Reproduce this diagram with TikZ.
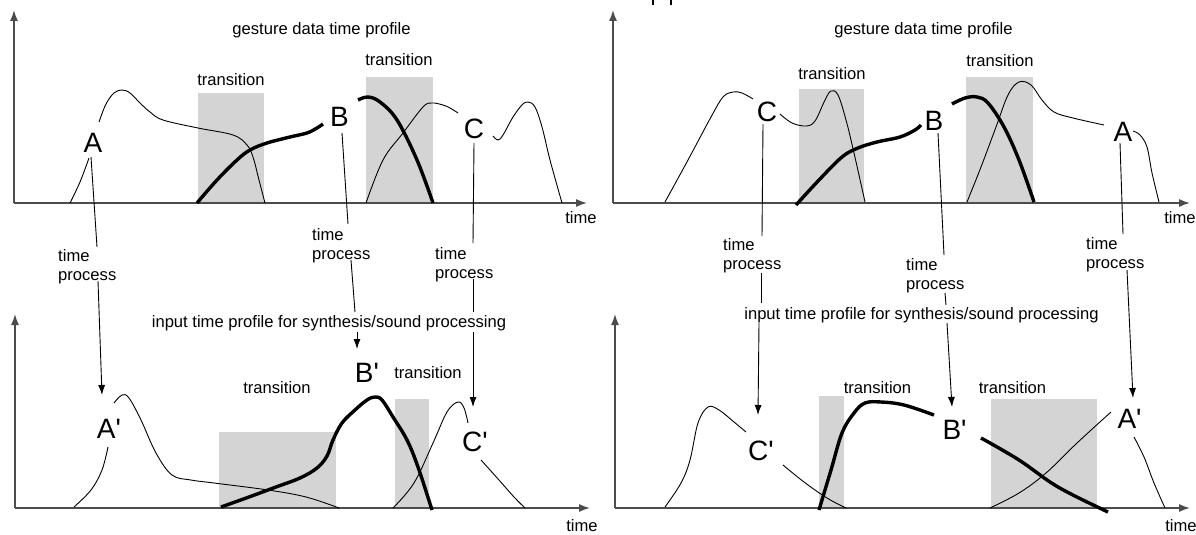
\documentclass[tikz,border=0pt]{standalone}
\usepackage{fontspec}
\setmainfont{Liberation Sans}
\usetikzlibrary{arrows.meta}
\begin{document}
\begin{tikzpicture}[x=1pt,y=-1pt,
  lbl/.style={inner sep=0pt, font=\fontsize{16.6}{19.5}\selectfont},
  tp/.style={inner sep=0pt, anchor=north west, align=left, font=\fontsize{16.6}{19.5}\selectfont},
  big/.style={inner sep=0pt, font=\fontsize{28}{30}\selectfont},
  axisline/.style={line width=1.4pt, black!70, -{Latex[length=11pt,width=8pt]}},
  thincurve/.style={line width=0.9pt, black},
  boldcurve/.style={line width=3.4pt, black},
  trans/.style={fill=black!17},
  conn/.style={line width=0.9pt, black},
  connarrow/.style={line width=0.9pt, black, -{Latex[length=10pt,width=7pt]}}
]
\useasboundingbox (0,0) rectangle (1196,535);

% cut-off marks at top
\draw[line width=2.5pt] (653,0) -- (653,5);
\draw[line width=2.5pt] (671,0) -- (671,5);

% ================= TOP LEFT =================
\fill[trans] (198,93) rectangle (264,203);
\fill[trans] (366,77) rectangle (433,203);
\coordinate (o1) at (14,203);
\coordinate (y1) at (14,10);
\coordinate (x1) at (587,203);
\draw[axisline] (o1) -- (y1);
\draw[axisline] (o1) -- (x1);
\node[lbl] (t1) at (321.5,30) {gesture data time profile};
\node[lbl] (tr1a) at (231,80) {transition};
\node[lbl] (tr1b) at (399,60) {transition};
\node[lbl] (time1) at (581,218) {time};
\node[big] (A) at (93,143) {A};
\node[big] (B) at (339.5,117) {B};
\node[big] (C) at (474,129) {C};

\draw[thincurve] plot[smooth,tension=0.6] coordinates {(70,203) (80,182) (89,158)};
\draw[thincurve] plot[smooth,tension=0.6] coordinates {(99,122) (106,104) (114,93) (122,90) (130,93) (140,103) (150,112) (163,120) (198,128) (233,135) (247,145) (253,157) (259,180) (265,203)};
\draw[boldcurve] plot[smooth,tension=0.6] coordinates {(197,203) (217,180) (237,160) (250,150) (267,143) (290,137) (307,133) (317,128) (323,124)};
\draw[boldcurve] plot[smooth,tension=0.6] coordinates {(358,100) (368,97) (380,102) (397,120) (417,160) (433,203)};
\draw[thincurve] plot[smooth,tension=0.6] coordinates {(366,203) (383,160) (403,133) (423,107) (432,103) (443,105) (450,108) (458,113)};
\draw[thincurve] plot[smooth,tension=0.6] coordinates {(493,136) (498,140) (503,135) (513,117) (522,105) (528,102) (535,107) (542,127) (550,160) (562,203)};

% ================= BOTTOM LEFT =================
\fill[trans] (219,432) rectangle (336,508);
\fill[trans] (395,399) rectangle (429,508);
\coordinate (o2) at (15,508);
\coordinate (y2) at (15,314);
\coordinate (x2) at (590,508);
\draw[axisline] (o2) -- (y2);
\draw[axisline] (o2) -- (x2);
\node[lbl] (in1) at (329,323) {input time profile for synthesis/sound processing};
\node[lbl] (tr2a) at (277,388) {transition};
\node[lbl] (tr2b) at (428,373) {transition};
\node[lbl] (time2) at (582,526) {time};
\node[big] (Ap) at (109,429) {A\textquotesingle};
\node[big] (Bp) at (367,373) {B\textquotesingle};
\node[big] (Cp) at (475,442) {C\textquotesingle};

\draw[thincurve] plot[smooth,tension=0.6] coordinates {(74,507) (91,490) (102,470) (108,447)};
\draw[thincurve] plot[smooth,tension=0.6] coordinates {(114,403) (122,395) (129,398) (141,420) (156,453) (172,475) (191,480) (214,483) (268,490) (306,497) (339,508)};
\draw[boldcurve] plot[smooth,tension=0.6] coordinates {(221,507) (249,497) (276,487) (300,478) (317,468) (327,456) (333,440) (342,423) (355,410) (367,400) (375,397) (382,400) (393,417) (407,440) (418,467) (432,510)};
\draw[thincurve] plot[smooth,tension=0.6] coordinates {(393,508) (414,483) (433,443) (447,412) (458,402) (464,408) (468,423)};
\draw[thincurve] plot[smooth,tension=0.6] coordinates {(481,460) (499,480) (514,497) (525,508)};

% time process labels (left)
\node[tp] (tpA1) at (58,249) {time\\process};
\node[tp] (tpB1) at (312,228) {time\\process};
\node[tp] (tpC1) at (435,247) {time\\process};

% connectors left
\coordinate (a11) at (91,157); \coordinate (a12) at (97,247);
\coordinate (a13) at (98,281); \coordinate (a14) at (102,395);
\draw[conn] (a11) -- (a12);
\draw[connarrow] (a13) -- (a14);
\coordinate (b11) at (342,133); \coordinate (b12) at (348,224);
\coordinate (b13) at (351,260); \coordinate (b14) at (355,312);
\coordinate (b15) at (357,332); \coordinate (b16) at (357,349);
\draw[conn] (b11) -- (b12);
\draw[conn] (b13) -- (b14);
\draw[connarrow] (b15) -- (b16);
\coordinate (c11) at (474,143); \coordinate (c12) at (473,243);
\coordinate (c13) at (473,279); \coordinate (c14) at (473,312);
\coordinate (c15) at (473,332); \coordinate (c16) at (473,407);
\draw[conn] (c11) -- (c12);
\draw[conn] (c13) -- (c14);
\draw[connarrow] (c15) -- (c16);

% ================= TOP RIGHT =================
\fill[trans] (799,89) rectangle (864,202);
\fill[trans] (966,77) rectangle (1033,202);
\coordinate (o3) at (613,203);
\coordinate (y3) at (613,10);
\coordinate (x3) at (1190,203);
\draw[axisline] (o3) -- (y3);
\draw[axisline] (o3) -- (x3);
\node[lbl] (t3) at (923.5,30) {gesture data time profile};
\node[lbl] (tr3a) at (832,74) {transition};
\node[lbl] (tr3b) at (1000,61) {transition};
\node[lbl] (time3) at (1180,218) {time};
\node[big] (C2) at (767,112) {C};
\node[big] (B2) at (934,121) {B};
\node[big] (A2) at (1123,132) {A};

\draw[thincurve] plot[smooth,tension=0.6] coordinates {(665,202) (688,160) (711,117) (723,97) (733,92) (742,93) (753,99)};
\draw[thincurve] plot[smooth,tension=0.6] coordinates {(780,114) (792,123) (806,126) (815,121) (825,100) (831,91) (838,95) (846,120) (854,153) (865,202)};
\draw[boldcurve] plot[smooth,tension=0.6] coordinates {(796,205) (819,180) (842,157) (858,148) (877,142) (900,137) (915,130) (921,125)};
\draw[boldcurve] plot[smooth,tension=0.6] coordinates {(952,104) (965,98) (977,97) (988,103) (1004,127) (1019,160) (1034,202)};
\draw[thincurve] plot[smooth,tension=0.6] coordinates {(967,202) (981,167) (996,127) (1008,95) (1019,82) (1031,85) (1042,100) (1054,112) (1073,118) (1104,125)};
\draw[thincurve] plot[smooth,tension=0.6] coordinates {(1133,131) (1140,135) (1147,147) (1152,173) (1159,202)};

% ================= BOTTOM RIGHT =================
\fill[trans] (819,396) rectangle (844,508);
\fill[trans] (991,399) rectangle (1097,508);
\coordinate (o4) at (615,508);
\coordinate (y4) at (615,314);
\coordinate (x4) at (1190,508);
\draw[axisline] (o4) -- (y4);
\draw[axisline] (o4) -- (x4);
\node[lbl] (in2) at (921.5,315) {input time profile for synthesis/sound processing};
\node[lbl] (tr4a) at (877.5,388) {transition};
\node[lbl] (tr4b) at (1012.5,388) {transition};
\node[lbl] (time4) at (1181,526) {time};
\node[big] (Cp2) at (761,451) {C\textquotesingle};
\node[big] (Bp2) at (954.5,430) {B\textquotesingle};
\node[big] (Ap2) at (1129.5,419) {A\textquotesingle};

\draw[thincurve] plot[smooth,tension=0.6] coordinates {(665,507) (681,483) (690,460) (698,423) (708,407) (719,410) (734,422) (746,432)};
\draw[thincurve] plot[smooth,tension=0.6] coordinates {(783,465) (804,482) (827,498) (846,508)};
\draw[boldcurve] plot[smooth,tension=0.6] coordinates {(819,510) (831,470) (842,433) (854,413) (865,403) (881,402) (904,405) (934,415)};
\draw[boldcurve] plot[smooth,tension=0.6] coordinates {(981,438) (1019,460) (1058,487) (1108,512)};
\draw[thincurve] plot[smooth,tension=0.6] coordinates {(990,508) (1019,493) (1046,473) (1077,443) (1111,412)};
\draw[thincurve] plot[smooth,tension=0.6] coordinates {(1134,437) (1144,457) (1154,483) (1165,508)};

% time process labels (right)
\node[tp] (tpC2) at (723,238) {time\\process};
\node[tp] (tpB2) at (906,258) {time\\process};
\node[tp] (tpA2) at (1086,237) {time\\process};

% connectors right
\coordinate (c21) at (763,124); \coordinate (c22) at (762,236);
\coordinate (c23) at (761,273); \coordinate (c24) at (761,303);
\coordinate (c25) at (759,323); \coordinate (c26) at (758,415);
\draw[conn] (c21) -- (c22);
\draw[conn] (c23) -- (c24);
\draw[connarrow] (c25) -- (c26);
\coordinate (b21) at (938,133); \coordinate (b22) at (944,255);
\coordinate (b23) at (945,293); \coordinate (b24) at (946,305);
\coordinate (b25) at (947,323); \coordinate (b26) at (952,407);
\draw[conn] (b21) -- (b22);
\draw[conn] (b23) -- (b24);
\draw[connarrow] (b25) -- (b26);
\coordinate (a21) at (1120,143); \coordinate (a22) at (1123,234);
\coordinate (a23) at (1127,270); \coordinate (a24) at (1133,398);
\draw[conn] (a21) -- (a22);
\draw[connarrow] (a23) -- (a24);
\end{tikzpicture}
\end{document}
